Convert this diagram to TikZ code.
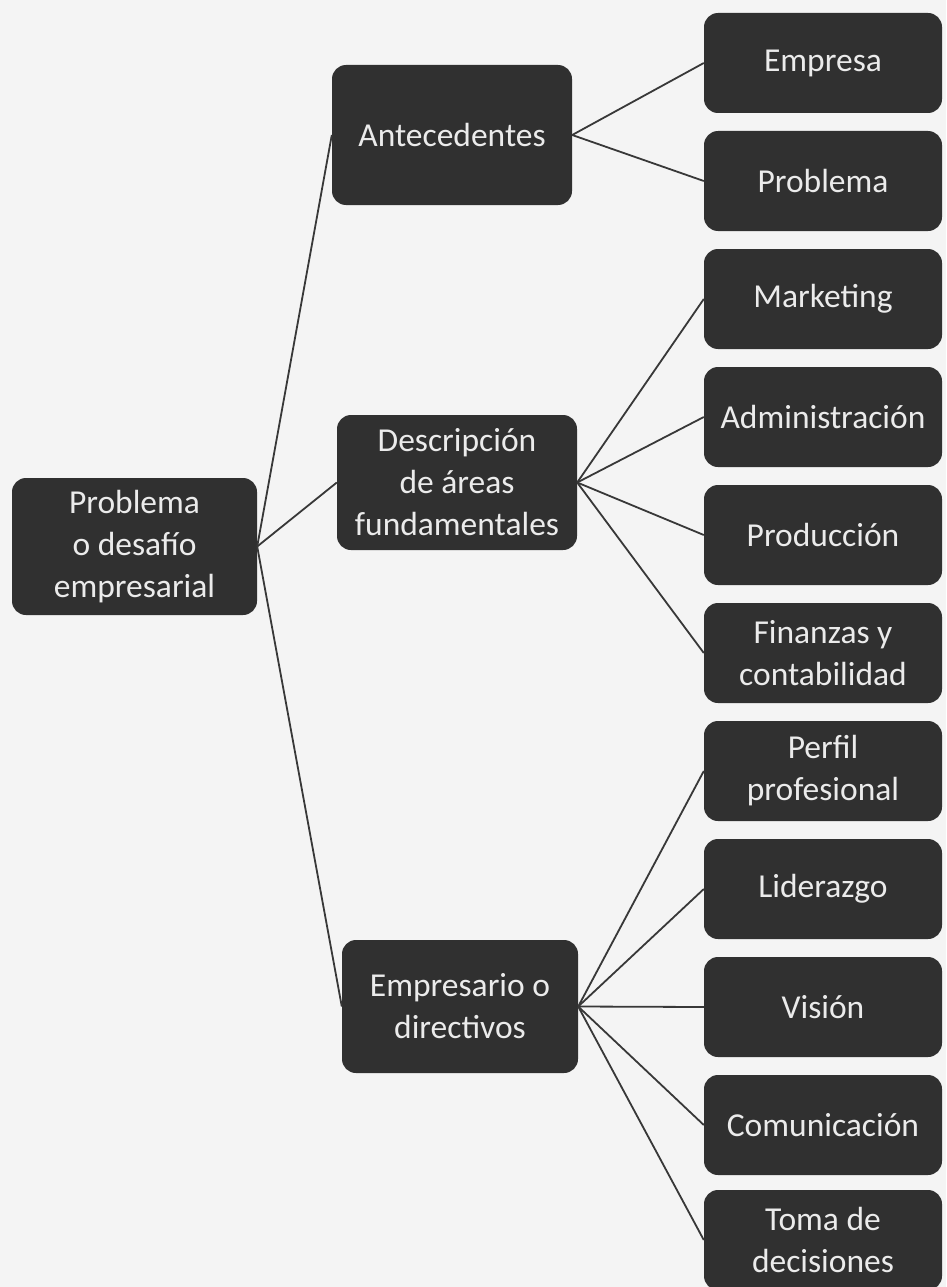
\documentclass[tikz,border=0pt]{standalone}
\usepackage{fontspec}
\setmainfont{Carlito}
\definecolor{boxgray}{HTML}{303030}
\definecolor{boxtext}{HTML}{EBEBEB}
\definecolor{linegray}{HTML}{383838}
\definecolor{paper}{HTML}{F4F4F4}
\begin{document}
\begin{tikzpicture}[x=1pt,y=-1pt,
  box/.style={fill=boxgray, rounded corners=14pt, text=boxtext, align=center,
    inner sep=0pt, font=\fontsize{33.5}{42}\selectfont},
  rbox/.style={box, minimum width=238pt, minimum height=100pt},
  conn/.style={draw=linegray, line width=1.8pt}]
\fill[paper] (0,0) rectangle (946,1287);
\useasboundingbox (0,0) rectangle (946,1287);
\node[box, minimum width=245pt, minimum height=137pt] (root) at (134.5,546.5) {Problema\\o desafío\\empresarial};
\node[box, minimum width=240pt, minimum height=140pt] (ant) at (452,135) {Antecedentes};
\node[box, minimum width=240pt, minimum height=135pt] (desc) at (457,482.5) {Descripción\\de áreas\\fundamentales};
\node[box, minimum width=236pt, minimum height=133pt] (emp) at (460,1006.5) {Empresario o\\directivos};
\node[rbox] (r1) at (823,63) {Empresa};
\node[rbox] (r2) at (823,181) {Problema};
\node[rbox] (r3) at (823,299) {Marketing};
\node[rbox] (r4) at (823,417) {Administración};
\node[rbox] (r5) at (823,535) {Producción};
\node[rbox] (r6) at (823,653) {Finanzas y\\contabilidad};
\node[rbox] (r7) at (823,771) {Perfil\\profesional};
\node[rbox] (r8) at (823,889) {Liderazgo};
\node[rbox] (r9) at (823,1007) {Visión};
\node[rbox] (r10) at (823,1125) {Comunicación};
\node[rbox] (r11) at (823,1240) {Toma de\\decisiones};
\draw[conn] (root.east) -- (ant.west);
\draw[conn] (root.east) -- (desc.west);
\draw[conn] (root.east) -- (emp.west);
\foreach \r in {r1,r2} \draw[conn] (ant.east) -- (\r.west);
\foreach \r in {r3,r4,r5,r6} \draw[conn] (desc.east) -- (\r.west);
\foreach \r in {r7,r8,r9,r10,r11} \draw[conn] (emp.east) -- (\r.west);
\end{tikzpicture}
\end{document}
